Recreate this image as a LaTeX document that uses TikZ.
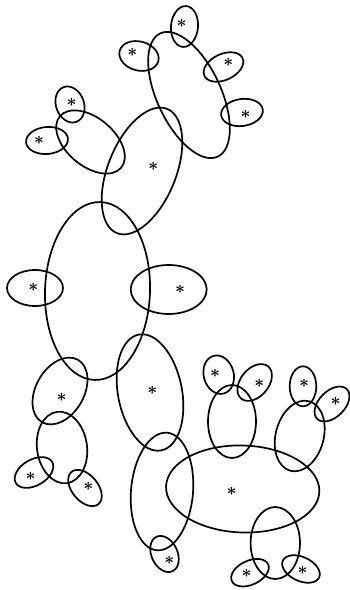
\documentclass[tikz,border=0pt]{standalone}
\begin{document}
\begin{tikzpicture}[x=1pt,y=1pt,
  elp/.style={draw=black,line width=1.7pt},
  star/.style={inner sep=0pt,font=\LARGE\boldmath}]
\useasboundingbox (0,0) rectangle (349,590);
% ellipses: center x, y, x radius, y radius, rotation
\foreach \cx/\cy/\rx/\ry/\r in {
  184.5/563.5/13.5/20.5/-5,
  189/495/32/68/25,
  139/534/20/14.5/-15,
  223.5/523/21/13/25,
  242/477.5/21/13.5/8,
  70/485.5/14/18.5/20,
  47/449.5/21/13.5/5,
  90.5/448/40/24/-40,
  142/419/34/67/-22,
  97.5/299/52.5/89/-2,
  35/302/28/18/0,
  168.7/300.5/38/24.5/0,
  60/199/24/36/-30,
  62/142.5/25/36/8,
  34/117.5/21/13/30,
  85/102/21/13/-50,
  150/197.5/32/59/11,
  162/98.5/31/59/-5,
  164.5/36/13/19/25,
  242.7/101/76.7/43.5/-2,
  275.3/47/24.7/36/0,
  250/17.3/20/12/25,
  301/21/20/12/-25,
  232/168.5/24/36.5/0,
  218.7/215.3/15/19.5/15,
  254.7/207.5/21/14/50,
  303/203.7/13.3/20/0,
  332/186/21/13/45,
  299.7/154/24/36/-15}
  {\draw[elp,rotate around={\r:(\cx,\cy)}] (\cx,\cy) ellipse [x radius=\rx, y radius=\ry];}
% stars
\node[star] (s1) at (181.7,566.7) {$\ast$};
\node[star] (s2) at (132.3,537.7) {$\ast$};
\node[star] (s3) at (228.3,527.7) {$\ast$};
\node[star] (s4) at (245.7,475.7) {$\ast$};
\node[star] (s5) at (71.7,487.7) {$\ast$};
\node[star] (s6) at (39,450) {$\ast$};
\node[star] (s7) at (153.3,423.3) {$\ast$};
\node[star] (s8) at (33.3,302.3) {$\ast$};
\node[star] (s9) at (180,301) {$\ast$};
\node[star] (s10) at (61.7,192.7) {$\ast$};
\node[star] (s11) at (152.3,200) {$\ast$};
\node[star] (s12) at (215,216.7) {$\ast$};
\node[star] (s13) at (259.3,206.7) {$\ast$};
\node[star] (s14) at (304,206.7) {$\ast$};
\node[star] (s15) at (335.7,188.3) {$\ast$};
\node[star] (s16) at (30.7,113.3) {$\ast$};
\node[star] (s17) at (88.3,104) {$\ast$};
\node[star] (s18) at (231.7,98.3) {$\ast$};
\node[star] (s19) at (169.3,29.5) {$\ast$};
\node[star] (s20) at (246.7,16.3) {$\ast$};
\node[star] (s21) at (302.7,20) {$\ast$};
\end{tikzpicture}
\end{document}
